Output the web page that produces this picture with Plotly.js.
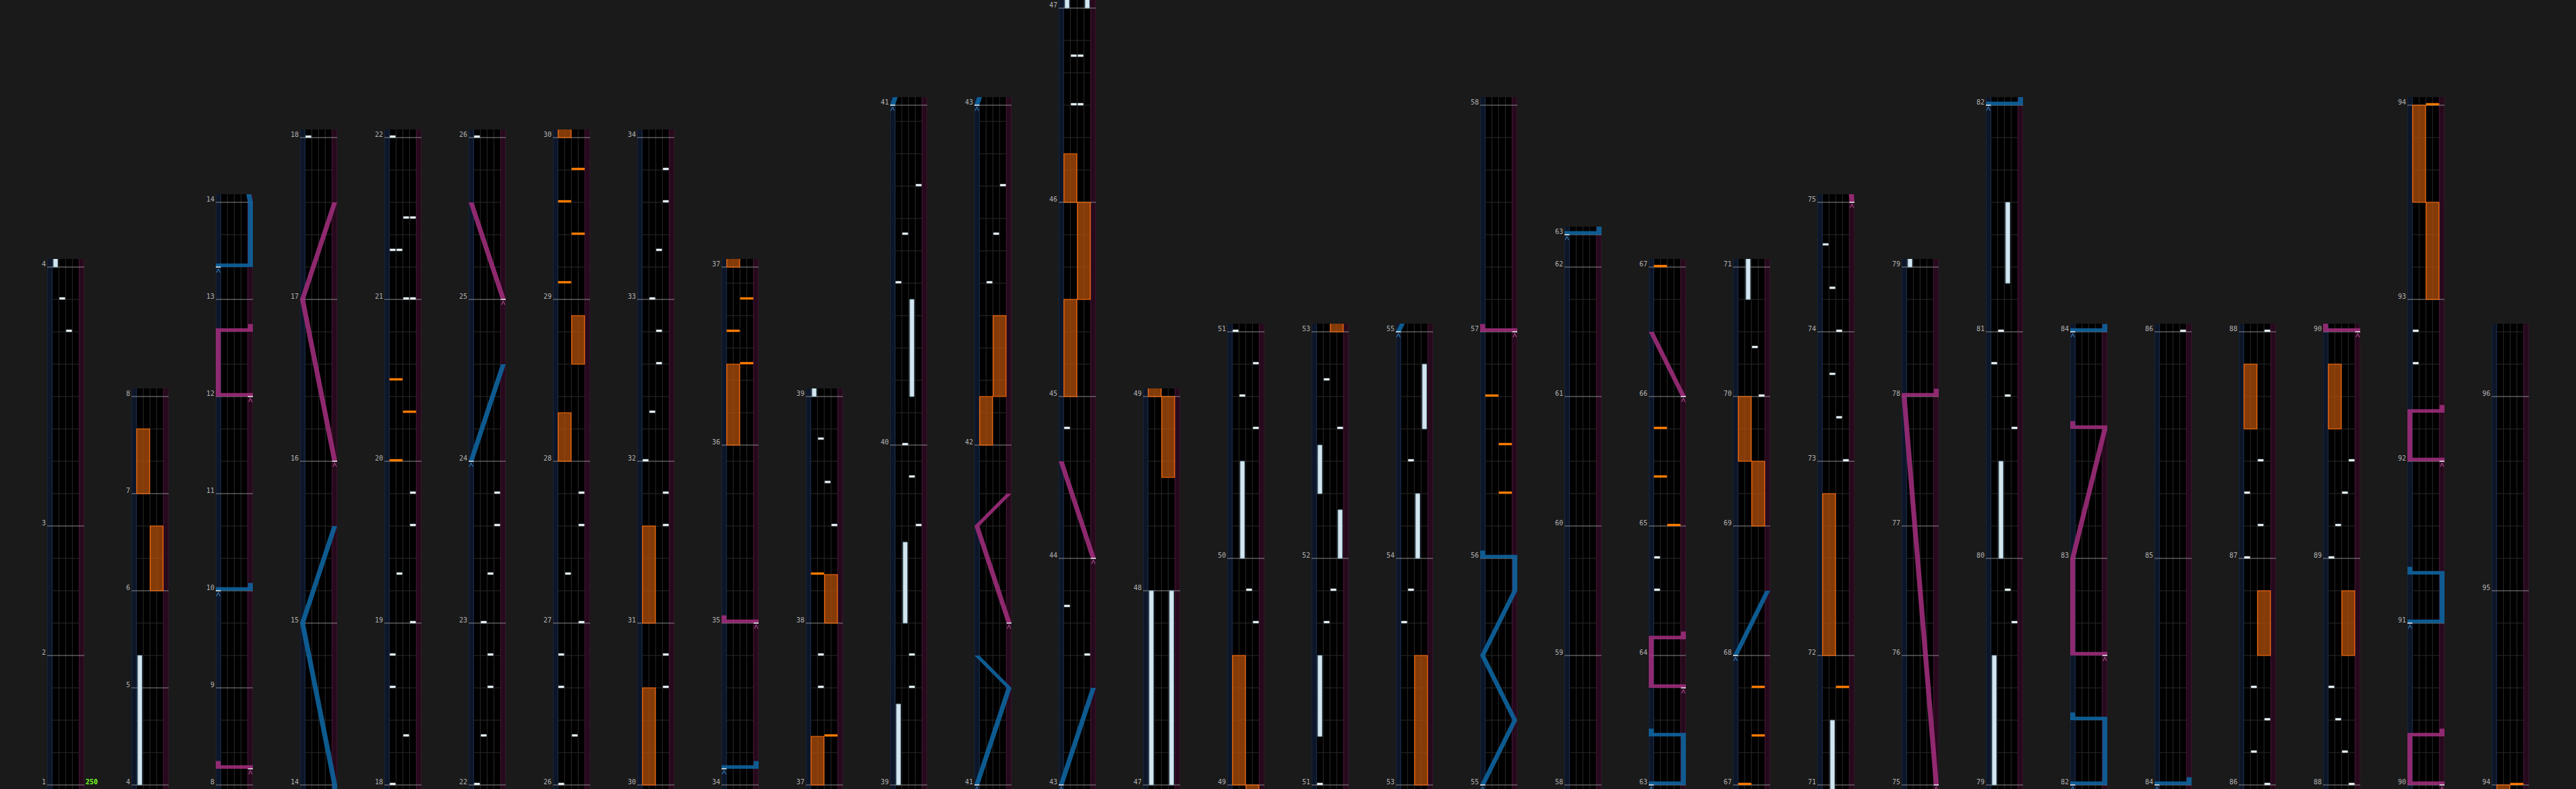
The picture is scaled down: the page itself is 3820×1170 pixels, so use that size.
<!DOCTYPE html>
<html><head><meta charset="utf-8">
<script src="https://cdn.plot.ly/plotly-3.0.1.min.js"></script>
<style>html,body{margin:0;padding:0;background:#1a1a1a;overflow:hidden}#chart{width:3820px;height:1170px}</style>
</head><body><div id="chart"></div>
<script>
// ---------------- DATA ----------------
// beats per measure, measures 1..96
const measureBeats = [4,4,8, 3,3,3,3, 3,3,3,3,3,3,
  5,5,5,5, 5,5,5,5, 5,5,5,5, 5,5,5,5, 5,5,5,5,
  5,5.5,5.5, 5,7, 10.5,10.5, 10.5,10.5, 7,5,6,6, 6,6, 7,7, 7,7, 7,7, 7,7,7,
  4,4,4,4,1, 4,4,4,4, 4,4,4,4, 4,6,4,4, 4,4,4,4, 7,7,7, 7,7, 7,7, 7,7, 7,7,
  5,5,5,6, 6,6,2];
// first measure of each column
const columnStarts = [1,4,8,14,18,22,26,30,34,37,39,41,43,47,49,51,53,55,58,63,67,71,75,79,82,84,86,88,90,94];
const bpmText = '250';
// BT chips: [measure, beat, lane 0-3]
const btChips = [
 [3,6,2],[3,7,1],
 [18,0,0],[18,1.5,2],[18,3,0],[18,4,0],[19,0,3],[19,1.5,1],[19,3,3],[19,4,3],
 [21,0,2],[21,0,3],[21,1.5,0],[21,1.5,1],[21,2.5,2],[21,2.5,3],
 [22,0,0],[22,1.5,1],[22,3,2],[22,4,2],[23,0,1],[23,1.5,2],[23,3,3],[23,4,3],
 [26,0,0],[26,1.5,2],[26,3,0],[26,4,0],[27,0,3],[27,1.5,1],[27,3,3],[27,4,3],
 [30,3,3],[30,4,3],[31,3,3],[31,4,3],
 [32,0,0],[32,1.5,1],[32,3,2],[32,4,2],[33,0,1],[33,1.5,2],[33,3,3],[33,4,3],
 [37,3,1],[37,4,1],[38,3,3],[38,4.33,2],[38,5.67,1],
 [39,3,2],[39,4,2],[39,8,3],[39,9.5,2],[40,0,1],[40,5,0],[40,6.5,1],[40,8,3],
 [42,5,1],[42,6.5,2],[42,8,3],
 [43,4,3],[43,5.5,0],[44,4,0],[46,3,1],[46,3,2],[46,4.5,1],[46,4.5,2],
 [49,5,3],[49,6,2],[50,4,3],[50,5,1],[50,6,3],
 [51,0,0],[51,5,1],[51,6,2],[52,4,3],[52,5.5,1],
 [53,5,0],[53,6,1],[54,3,1],
 [64,2,0],[64,3,0],
 [70,0,3],[70,1.5,2],
 [73,0,3],[73,1.33,2],[73,2.67,1],[74,0,2],[74,1.33,1],[74,2.67,0],
 [79,5,3],[79,6,2],[80,4,3],[80,5,2],[80,6,0],[81,0,1],
 [86,0,3],[86,1,1],[86,2,3],[86,3,1],[87,0,0],[87,1,2],[87,2,0],[87,3,2],
 [88,0,3],[88,1,2],[88,2,1],[88,3,0],[89,0,0],[89,1,1],[89,2,2],[89,3,3],
 [92,3,0],[92,4,0]
];
// BT holds: [measure, beat, lane, length in beats]
const btHolds = [
 [4,0,0,4],[39,0,0,2.5],[39,5,1,2.5],[40,1.5,2,3],[47,0,0,6],[47,0,3,6],
 [50,0,1,3],[51,1.5,0,2.5],[52,0,3,1.5],[52,2,0,1.5],[54,0,2,2],[54,4,3,2],
 [70,3,1,3],[79,0,0,4],[80,0,1,3],[81,1.5,2,2.5]
];
// FX chips: [measure, beat, side 0=L 1=R]
const fxChips = [
 [20,0,0],[20,1.5,1],[20,2.5,0],[29,0.5,0],[29,2,1],[29,3,0],[29,4,1],
 [36,2.5,1],[36,3.5,0],[36,4.5,1],[37,1.5,1],[38,1.5,0],
 [56,2,1],[56,3.5,1],[56,5,0],[65,0,1],[65,1.5,0],[65,3,0],
 [67,0,0],[67,1.5,1],[67,3,1],[71,3,1],[94,0,1]
];
// FX holds: [measure, beat, side, length]
const fxHolds = [
 [6,0,1,2],[7,0,0,2],[28,0,0,1.5],[28,3,1,1.5],[30,0,0,3],[31,0,0,3],
 [36,0,0,2.5],[37,0,0,1.5],[38,0,1,1.5],[42,0,0,1.5],[42,1.5,1,2.5],
 [45,0,0,3],[45,3,1,3],[46,0,0,1.5],[48,3.5,1,2.5],[49,0,0,4],[53,0,1,4],
 [69,0,1,2],[69,2,0,2],[72,0,0,5],[86,4,1,2],[87,4,0,2],[88,4,1,2],[89,4,0,2],
 [93,0,1,3],[93,3,0,3]
];
// lasers: list of points [measure, beat, position 0..1]; equal times = slam
const laserLeft = [
 [[10,0,0],[10,0,1]],
 [[13,1,0],[13,1,1],[14,0,1],[15,0,0],[15,3,1]],
 [[24,0,0],[24,3,1]],
 [[34,0.5,0],[34,0.5,1]],
 [[41,0,0],[41,3,1],[41,4,0]],
 [[43,0,0],[43,3,1]],
 [[55,0,0],[55,2,1],[55,4,0],[55,6,1],[56,0,1],[56,0,0]],
 [[63,0,0],[63,0,1],[63,1.5,1],[63,1.5,0]],
 [[68,0,0],[68,2,1]],
 [[82,0,0],[82,0,1],[82,2,1],[82,2,0]],
 [[84,0,0],[84,0,1]],
 [[91,0,0],[91,0,1],[91,1.5,1],[91,1.5,0]]
];
const laserRight = [
 [[8,0.5,1],[8,0.5,0]],
 [[12,0,1],[12,0,0],[12,2,0],[12,2,1]],
 [[16,0,1],[17,0,0],[17,3,1]],
 [[25,0,1],[25,3,0]],
 [[35,0,1],[35,0,0]],
 [[41,5,1],[41,8,0],[41,9,1]],
 [[44,0,1],[44,3,0]],
 [[57,0,1],[57,0,0]],
 [[63,3,1],[63,3,0],[64,0.5,0],[64,0.5,1]],
 [[66,0,1],[66,2,0]],
 [[75,0,1],[78,0,0],[78,0,1]],
 [[82,4,1],[82,4,0],[83,0,0],[83,4,1],[83,4,0]],
 [[90,0,1],[90,0,0],[90,1.5,0],[90,1.5,1]],
 [[92,0,1],[92,0,0],[92,1.5,0],[92,1.5,1]]
];

// ---------------- GEOMETRY / STYLE ----------------
const W = 3820, H = 1170, PXB = 48;
const COL_X0 = 70, COL_STEP = 125, COL_W = 55;
const PAD_TOP = 0.25, PAD_BOT = 0.125;
const XL = -0.73, XR = 4.77, HW = 0.365;
const CHIP_H = 0.06, SLAM_H = 0.11, TAIL_H = 0.24;
const COLORS = {
  grid:'#2a2a2a', measure:'#8a8a8a',
  stripL:'#0d1628', stripLEdge:'#1d3350', stripR:'#260a1c', stripREdge:'#4a1a3c',
  fxHold:'rgba(178,80,10,0.74)', fxEdge:'#ff6c0a', fxChip:'#ff7b00',
  btHold:'#d3e5ee', btEdge:'#86a8bd', btChip:'#e2edf3',
  laserL:'rgba(14,100,158,0.9)', laserR:'rgba(160,46,124,0.88)',
  markL:'#3f8fcf', markR:'#c35aa2', label:'#b2b2b2', bpm:'#77ff22'
};

const mStart = []; let acc = 0;
measureBeats.forEach(b => { mStart.push(acc); acc += b; });
const totalBeats = acc;
const T = (m, b) => mStart[m-1] + b;
const laserX = p => XL + HW + p * (XR - XL - 2*HW);

function poly(o, pts){ pts.forEach(p => { o.x.push(p[0]); o.y.push(p[1]); }); o.x.push(pts[0][0]); o.y.push(pts[0][1]); o.x.push(null); o.y.push(null); }
function rect(o, xa, xb, ya, yb){ poly(o, [[xa,ya],[xb,ya],[xb,yb],[xa,yb]]); }
function seg(o, xa, ya, xb, yb){ o.x.push(xa, xb, null); o.y.push(ya, yb, null); }
const nb = () => ({x:[], y:[]});

const traces = [];
const layout = {
  width: W, height: H, margin:{l:0,r:0,t:0,b:0},
  paper_bgcolor:'#1a1a1a', plot_bgcolor:'#000000', showlegend:false,
  annotations: []
};

columnStarts.forEach((sm, c) => {
  const last = c === columnStarts.length - 1;
  const em = last ? measureBeats.length + 1 : columnStarts[c+1];
  const b0 = T(sm, 0), b1 = last ? totalBeats : T(em, 0);
  const y0 = b0 - PAD_BOT, y1 = b1 + PAD_TOP;
  const sfx = c === 0 ? '' : String(c+1);
  const left = COL_X0 + c * COL_STEP;
  const tickM = [];
  for (let m = sm; m <= Math.min(em, measureBeats.length); m++) tickM.push(m);
  layout['xaxis'+sfx] = {domain:[left/W, (left+COL_W)/W], range:[XL, XR], anchor:'y'+sfx,
    visible:false, fixedrange:true};
  layout['yaxis'+sfx] = {domain:[0, Math.min(1,(y1-y0)*PXB/H)], range:[y0, y1], anchor:'x'+sfx,
    showgrid:false, zeroline:false, showline:false, ticks:'', showticklabels:false,
    tickmode:'array', tickvals: tickM.map(m => T(m,0)), fixedrange:true};
  const xa = 'x'+sfx, ya = 'y'+sfx;
  const inView = (ta, tb) => tb >= y0 && ta <= y1;

  // measure-number labels sitting on their measure lines, left of the column
  tickM.forEach(m => layout.annotations.push({xref:xa, yref:ya, x:XL, y:T(m,0), xanchor:'right', yanchor:'bottom',
    xshift:-1, yshift:-2, text:String(m), showarrow:false, borderpad:0,
    font:{family:'DejaVu Sans Mono', size:10, color:COLORS.label}}));

  // grid: beat lines and lane dividers
  const grid = nb();
  for (let m = sm; m < em; m++) {
    const n = measureBeats[m-1];
    const lastMeasure = m === measureBeats.length;
    for (let k = 1; lastMeasure ? k <= n : k < n; k++) seg(grid, 0, T(m,k), 4, T(m,k));
  }
  [1,2,3].forEach(x => seg(grid, x, y0, x, y1));
  // strips
  const sL = nb(), sR = nb();
  rect(sL, XL, 0, y0-1, y1+1); rect(sR, 4, XR, y0-1, y1+1);
  // measure lines
  const ml = nb();
  tickM.forEach(m => seg(ml, XL, T(m,0), XR, T(m,0)));

  const fxH = nb(), btH = nb(), fxC = nb(), btC = nb();
  fxHolds.forEach(([m,b,s,len]) => { const t = T(m,b); if (inView(t, t+len)) rect(fxH, 2*s+0.05, 2*s+1.95, t, t+len); });
  btHolds.forEach(([m,b,l,len]) => { const t = T(m,b); if (inView(t, t+len)) rect(btH, l+0.18, l+0.82, t, t+len); });
  fxChips.forEach(([m,b,s]) => { const t = T(m,b); if (inView(t, t+CHIP_H)) rect(fxC, 2*s+0.05, 2*s+1.95, t, t+CHIP_H); });
  btChips.forEach(([m,b,l]) => { const t = T(m,b); if (inView(t, t+CHIP_H)) rect(btC, l+0.1, l+0.9, t, t+CHIP_H); });

  function buildLasers(list){
    const o = nb(), ticks = nb(), chev = nb();
    list.forEach(pts => {
      const P = pts.map(([m,b,p]) => [T(m,b), laserX(p)]);
      const tmin = P[0][0], tmax = P[P.length-1][0] + TAIL_H;
      if (!inView(tmin - 0.2, tmax)) return;
      for (let i = 0; i < P.length-1; i++) {
        const [ta, xa1] = P[i], [tb, xb1] = P[i+1];
        if (tb === ta) {
          rect(o, Math.min(xa1,xb1)-HW, Math.max(xa1,xb1)+HW, ta, ta+SLAM_H);
          if (i === P.length-2) rect(o, xb1-HW, xb1+HW, tb, tb+TAIL_H);
        } else {
          poly(o, [[xa1-HW,ta],[xa1+HW,ta],[xb1+HW,tb],[xb1-HW,tb]]);
        }
      }
      const [t0, x0] = P[0];
      seg(ticks, x0-HW, t0, x0+HW, t0);
      chev.x.push(x0-0.26, x0, x0+0.26, null);
      chev.y.push(t0-0.17, t0-0.05, t0-0.17, null);
    });
    return [o, ticks, chev];
  }
  const [lL, tL, cL] = buildLasers(laserLeft);
  const [lR, tR, cR] = buildLasers(laserRight);

  const base = {xaxis:xa, yaxis:ya, hoverinfo:'skip', showlegend:false};
  traces.push(Object.assign({type:'scatter', mode:'lines', x:grid.x, y:grid.y, line:{color:COLORS.grid, width:1}}, base));
  traces.push(Object.assign({type:'scatter', mode:'lines', x:sL.x, y:sL.y, fill:'toself', fillcolor:COLORS.stripL, line:{color:COLORS.stripLEdge, width:1}}, base));
  traces.push(Object.assign({type:'scatter', mode:'lines', x:sR.x, y:sR.y, fill:'toself', fillcolor:COLORS.stripR, line:{color:COLORS.stripREdge, width:1}}, base));
  traces.push(Object.assign({type:'scatter', mode:'lines', x:ml.x, y:ml.y, line:{color:COLORS.measure, width:1}}, base));
  if (fxH.x.length) traces.push(Object.assign({type:'scatter', mode:'lines', x:fxH.x, y:fxH.y, fill:'toself', fillcolor:COLORS.fxHold, line:{color:COLORS.fxEdge, width:1.2}}, base));
  if (btH.x.length) traces.push(Object.assign({type:'scatter', mode:'lines', x:btH.x, y:btH.y, fill:'toself', fillcolor:COLORS.btHold, line:{color:COLORS.btEdge, width:1}}, base));
  if (fxC.x.length) traces.push(Object.assign({type:'scatter', mode:'lines', x:fxC.x, y:fxC.y, fill:'toself', fillcolor:COLORS.fxChip, line:{color:COLORS.fxChip, width:0.5}}, base));
  if (btC.x.length) traces.push(Object.assign({type:'scatter', mode:'lines', x:btC.x, y:btC.y, fill:'toself', fillcolor:COLORS.btChip, line:{color:COLORS.btChip, width:0.5}}, base));
  [[lL,tL,cL,COLORS.laserL,COLORS.markL],[lR,tR,cR,COLORS.laserR,COLORS.markR]].forEach(([o,tk,ch,col,mcol]) => {
    if (!o.x.length) return;
    traces.push(Object.assign({type:'scatter', mode:'lines', x:o.x, y:o.y, fill:'toself', fillcolor:col, line:{color:col, width:0}}, base));
    traces.push(Object.assign({type:'scatter', mode:'lines', x:tk.x, y:tk.y, line:{color:'#e8f0f5', width:1.5}}, base));
    traces.push(Object.assign({type:'scatter', mode:'lines', x:ch.x, y:ch.y, line:{color:mcol, width:1}}, base));
  });
});

layout.annotations.push({xref:'x', yref:'y', x:XR, y:T(1,0), xanchor:'left', yanchor:'bottom', xshift:1, yshift:-2,
  text:'<b>'+bpmText+'</b>', showarrow:false, borderpad:0, font:{family:'DejaVu Sans Mono', size:10, color:COLORS.bpm}});

Plotly.newPlot('chart', traces, layout, {staticPlot:true, displayModeBar:false});
</script>
</body></html>
